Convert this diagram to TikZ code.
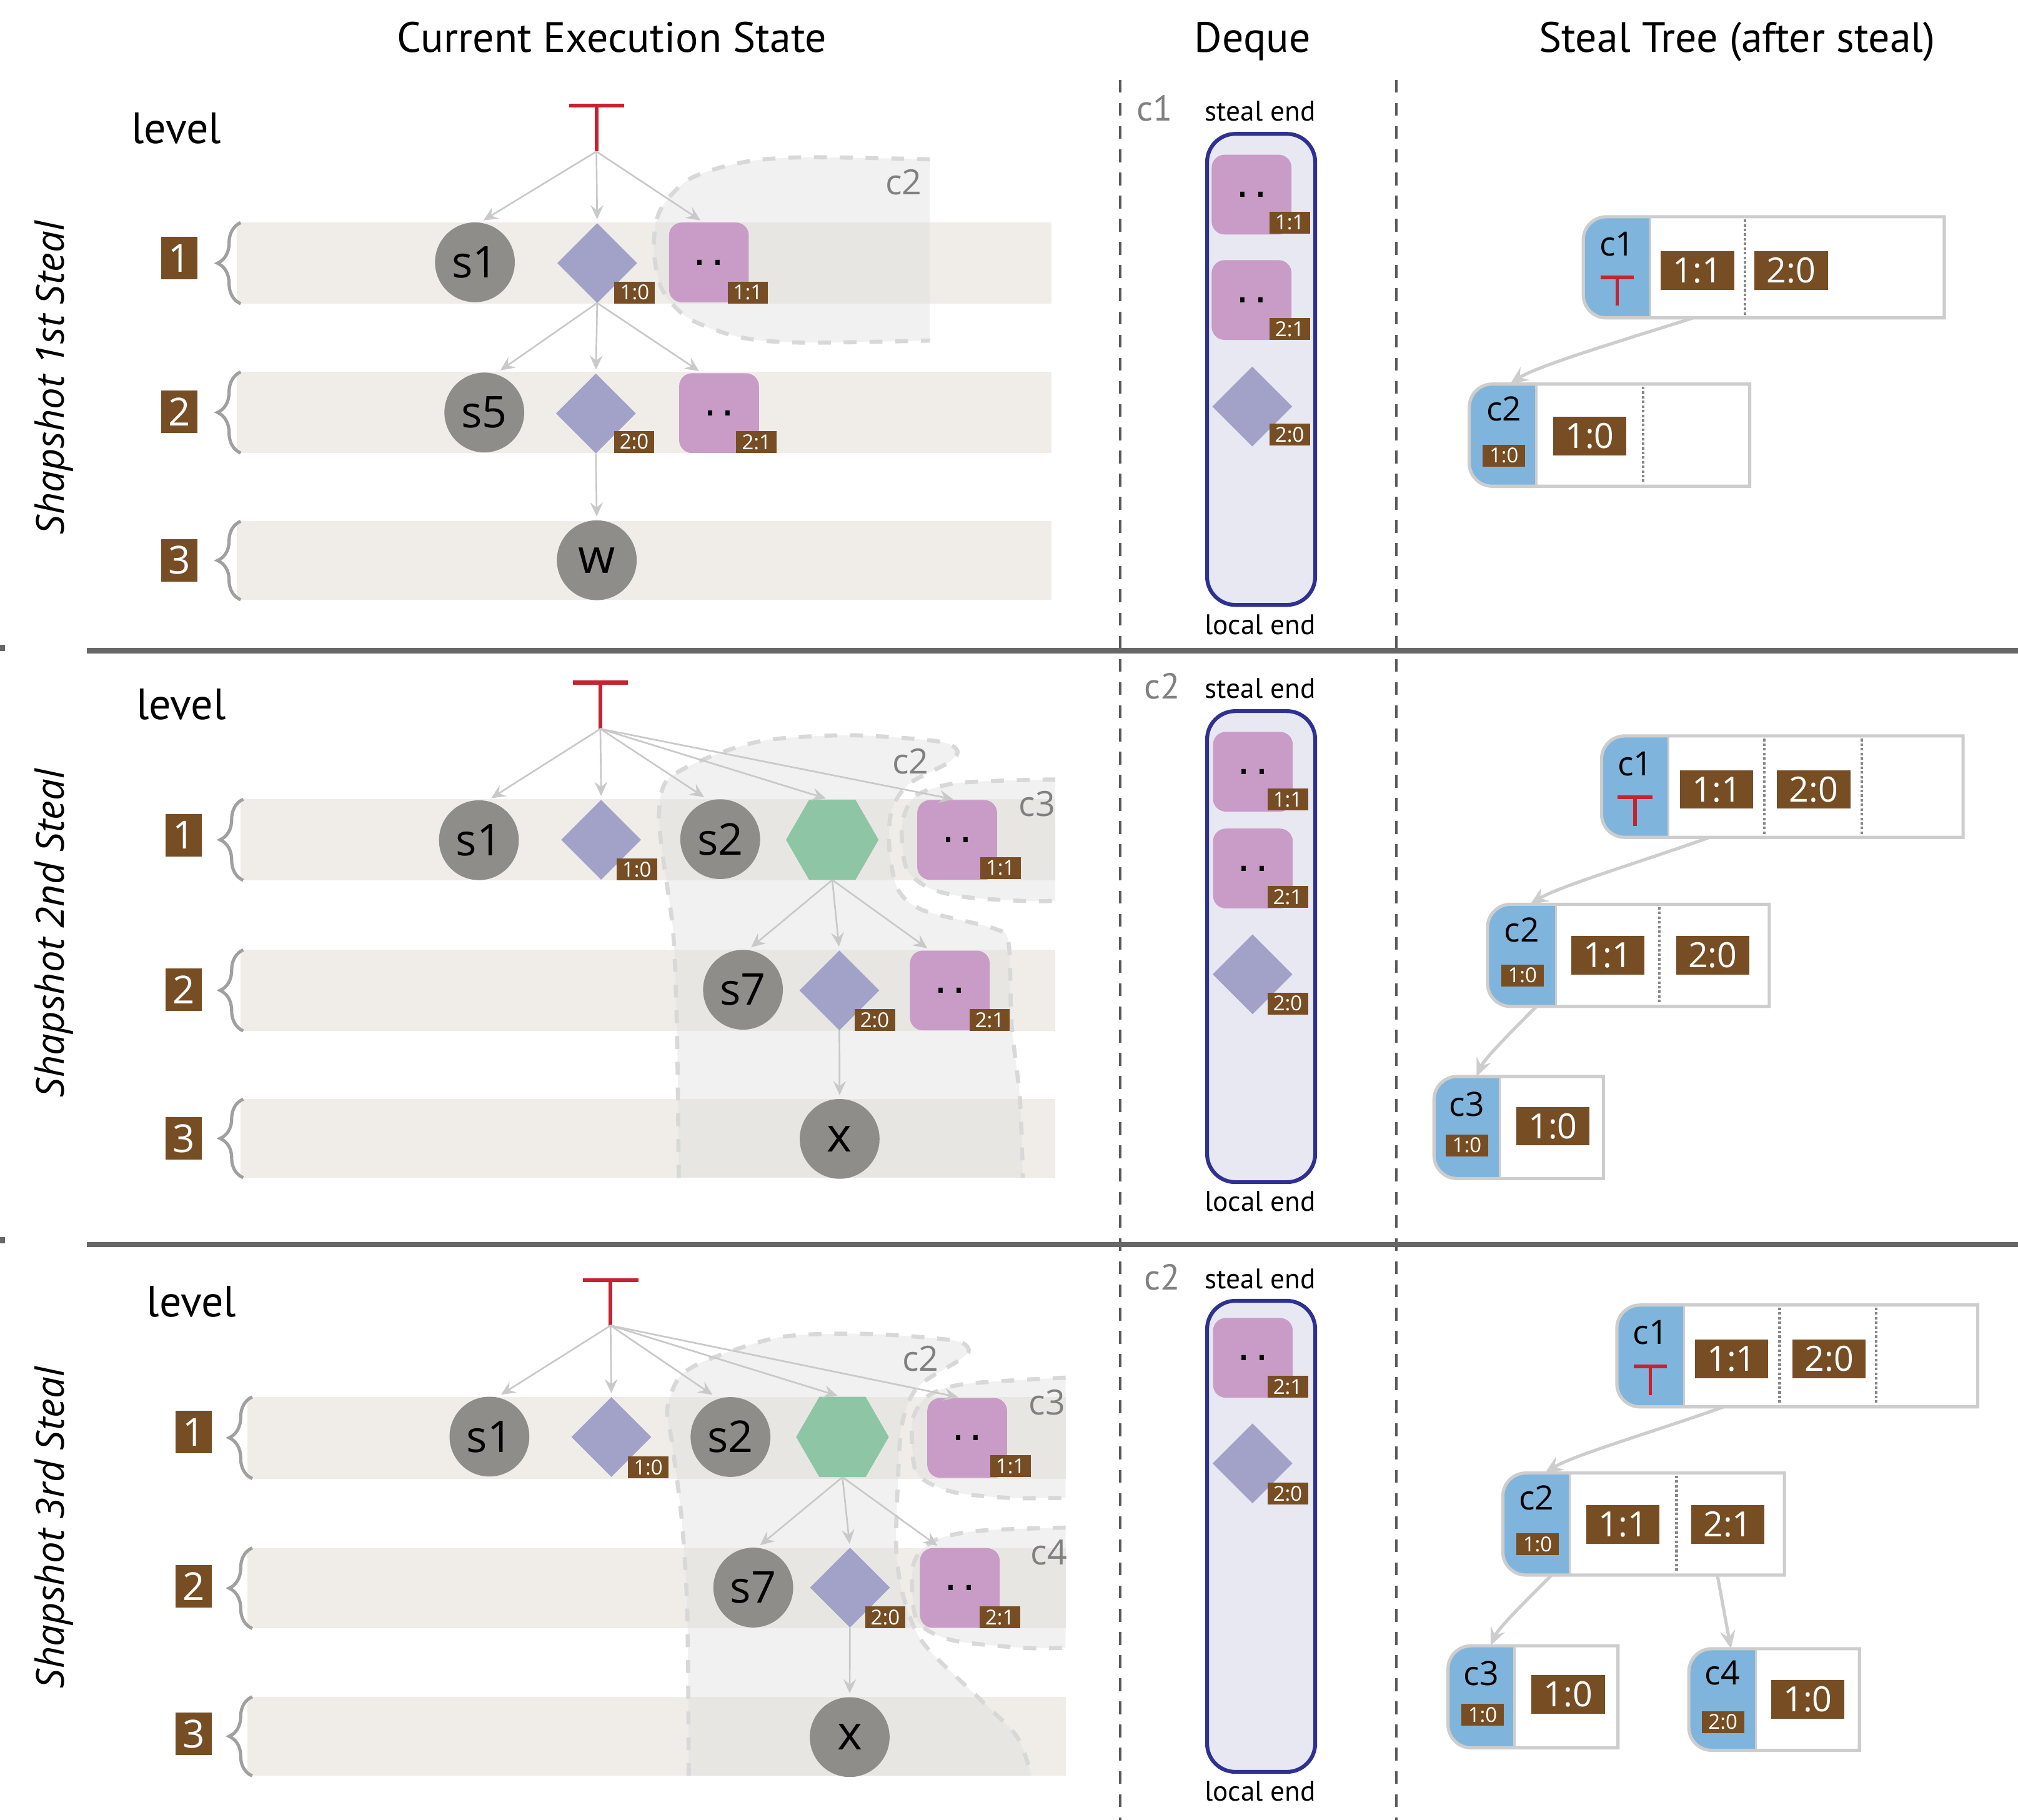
\documentclass[tikz,border=0pt]{standalone}
\usepackage{fontspec}
\setmainfont{PT Sans}
\newfontfamily\osans{Open Sans}
\newfontfamily\dvsans{DejaVu Sans}
\usetikzlibrary{shapes.geometric,arrows.meta,decorations.pathreplacing,fit,calc}

\definecolor{bandc}{HTML}{F0EDE9}
\definecolor{circc}{HTML}{8F8D8A}
\definecolor{diac}{HTML}{A2A1C8}
\definecolor{pinkc}{HTML}{C99BC7}
\definecolor{hexc}{HTML}{8EC6A5}
\definecolor{brownc}{HTML}{774D23}
\definecolor{stbluec}{HTML}{7FB5DC}
\definecolor{stlinec}{HTML}{CDCDCD}
\definecolor{dqfillc}{HTML}{E8E8F3}
\definecolor{dqlinec}{HTML}{2E3192}
\definecolor{redc}{HTML}{C6222F}
\definecolor{arrc}{HTML}{C9C9C9}
\definecolor{regc}{HTML}{DCDCDC}
\definecolor{reglinec}{HTML}{D8D8D8}
\definecolor{labgray}{HTML}{808080}
\definecolor{sepc}{HTML}{676767}
\definecolor{vsepc}{HTML}{5A5A5A}
\definecolor{bracec}{HTML}{A0A0A0}
\definecolor{dotsepc}{HTML}{888888}

\newcommand\fs[1]{\fontsize{#1}{#1}\selectfont}
\newcommand\twodots{{\dvsans\fs{32}.\kern3.8pt.}}

% steal tree node: name, x0, y0, x1, y1, bx
\newcommand\stnode[6]{%
  \fill[stbluec] (#6,#3) -- ({#2+18},#3) .. controls ({#2+8},#3) and (#2,{#3+8}) .. (#2,{#3+18}) -- (#2,{#5-18}) .. controls (#2,{#5-8}) and ({#2+8},#5) .. ({#2+18},#5) -- (#6,#5) -- cycle;
  \draw[stlinec, line width=2.5pt] (#4,#3) -- ({#2+18},#3) .. controls ({#2+8},#3) and (#2,{#3+8}) .. (#2,{#3+18}) -- (#2,{#5-18}) .. controls (#2,{#5-8}) and ({#2+8},#5) .. ({#2+18},#5) -- (#4,#5) -- cycle;
  \draw[stlinec, line width=1.5pt] (#6,#3) -- (#6,#5);
  \node[fit={(#2,#3) (#4,#5)}] (#1) {};
}

\begin{document}
\begin{tikzpicture}[x=1pt,y=-1pt,
  every node/.style={inner sep=0pt, outer sep=0pt},
  bandbox/.style={fill=bandc},
  lvlbox/.style={fill=brownc, text=white, minimum width=28pt, minimum height=33pt, font=\osans\fs{30}},
  bracest/.style={decorate, decoration={brace, amplitude=18pt}, draw=bracec, line width=2.5pt},
  gcirc/.style={circle, fill=circc, minimum size=62pt, font=\osans\fs{34}},
  bigl/.style={font=\osans\fs{37}},
  dmd/.style={diamond, fill=diac, minimum width=62pt, minimum height=62pt, aspect=1},
  hexa/.style={regular polygon, regular polygon sides=6, fill=hexc, minimum size=72pt},
  pinkbox/.style={rectangle, rounded corners=10pt, fill=pinkc, minimum width=62pt, minimum height=62pt},
  smalltag/.style={fill=brownc, text=white, font=\osans\fs{16}, minimum width=31.5pt, minimum height=17pt, anchor=south west},
  sttag/.style={fill=brownc, text=white, font=\osans\fs{16}, minimum width=33pt, minimum height=17pt},
  entrybox/.style={fill=brownc, text=white, font=\osans\fs{27}, minimum width=57pt, minimum height=30pt},
  stname/.style={font=\osans\fs{26}},
  garrow/.style={draw=arrc, line width=1.3pt, shorten >=3pt, -{Stealth[length=11pt,width=10pt,inset=4pt]}},
  starrow/.style={draw=stlinec, line width=2.5pt, -{Stealth[length=14pt,width=12pt,inset=5pt]}},
  regfill/.style={fill=regc, fill opacity=0.4},
  regdash/.style={draw=reglinec, line width=3.2pt, dash pattern=on 10pt off 10pt},
  reglabel/.style={text=labgray, font=\osans\fs{27}},
  redt/.style={draw=redc, line width=3pt},
  dqbox/.style={draw=dqlinec, line width=3pt, fill=dqfillc, rounded corners=22pt, minimum width=84pt, minimum height=366pt},
  dqlabel/.style={text=labgray, font=\fs{28}},
  endlabel/.style={font=\fs{22}},
  ttl/.style={font=\fs{33}, anchor=base},
  lvltext/.style={font=\fs{34}},
  rot/.style={rotate=90, font=\osans\itshape\fs{30}},
  dotsep/.style={draw=dotsepc, line width=2pt, dash pattern=on 2pt off 1.6pt}
]
\path[use as bounding box] (0,0) rectangle (1568,1414);

% ---------------- titles ----------------
\node[ttl] (title1) at (475.5,40.6) {Current Execution State};
\node[ttl] (title2) at (973.2,40.6) {Deque};
\node[ttl] (title3) at (1349.8,40.6) {Steal Tree (after steal)};

% ---------------- separators ----------------
\draw[vsepc, line width=2pt, dash pattern=on 10pt off 8pt] (870.2,62) -- (870.2,1414);
\draw[vsepc, line width=2pt, dash pattern=on 10pt off 8pt] (1084.8,62) -- (1084.8,1414);
\draw[sepc, line width=4.3pt] (67.5,505.6) -- (1568,505.6);
\draw[sepc, line width=4.3pt] (67.5,967) -- (1568,967);
\fill[sepc] (0,501) rectangle (4,506);
\fill[sepc] (0,961) rectangle (4,966);

% ================= PANEL 1 =================
\fill[bandbox] (184,173) rectangle (817,236);
\fill[bandbox] (184,289) rectangle (817,352);
\fill[bandbox] (184,405) rectangle (817,466);
\draw[bracest] (187,236) -- (187,173);
\draw[bracest] (187,352) -- (187,289);
\draw[bracest] (187,466) -- (187,405);
\node[lvlbox] (A1) at (139.2,200.6) {1};
\node[lvlbox] (A2) at (139.2,320) {2};
\node[lvlbox] (A3) at (139.2,435.3) {3};
\node[lvltext] (Alevel) at (137,99.7) {level};
\node[rot] (Arot) at (42,293.5) {Shapshot 1st Steal};

\fill[regfill] plot[smooth] coordinates {(722.5,123.8) (624.5,122.2) (576,126.3) (535.6,139.2) (512.9,163.5) (508,192.6) (514.5,225) (535.6,247.6) (576,262.2) (624.5,266.2) (722.5,264.6)} -- cycle;
\draw[regdash] plot[smooth] coordinates {(722.5,123.8) (624.5,122.2) (576,126.3) (535.6,139.2) (512.9,163.5) (508,192.6) (514.5,225) (535.6,247.6) (576,262.2) (624.5,266.2) (722.5,264.6)};
\node[reglabel] (Arc2) at (702.2,141.6) {c2};

\node[minimum width=42.7pt, minimum height=35.5pt, anchor=north] (Aroot) at (463.4,82.2) {};
\draw[redt] (Aroot.north west) -- (Aroot.north east) (Aroot.north) -- (Aroot.south);

\node[gcirc] (As1) at (369,203.8) {s1};
\node[dmd] (Ad1) at (464,204.4) {};
\node[pinkbox] (Ap1) at (550.8,203.9) {\twodots};
\node[gcirc] (As5) at (376.3,320.5) {s5};
\node[dmd] (Ad2) at (463,321.2) {};
\node[pinkbox] (Ap2) at (558.7,321) {\twodots};
\node[gcirc, bigl] (Aw) at (463.7,435.3) {w};
\node[smalltag] (Ad1t) at (477.4,235.7) {1:0};
\node[smalltag] (Ap1t) at (565.3,235.7) {1:1};
\node[smalltag] (Ad2t) at (477,351.8) {2:0};
\node[smalltag] (Ap2t) at (572,352) {2:1};

\draw[garrow] (Aroot.south) -- ([xshift=4pt]As1.north);
\draw[garrow] (Aroot.south) -- (Ad1.north);
\draw[garrow] (Aroot.south) -- ([xshift=-4pt]Ap1.north);
\draw[garrow] (Ad1.south) -- ([xshift=10pt]As5.north);
\draw[garrow] (Ad1.south) -- (Ad2.north);
\draw[garrow] (Ad1.south) -- ([xshift=-13pt]Ap2.north);
\draw[garrow] (Ad2.south) -- (Aw.north);

% deque 1
\node[dqbox] (AQ) at (979.9,287) {};
\node[dqlabel] (AQc) at (897,84.2) {c1};
\node[endlabel] (AQs) at (979.2,86.5) {steal end};
\node[endlabel] (AQl) at (979.2,485.2) {local end};
\node[pinkbox] (AQp1) at (972.5,151.2) {\twodots};
\node[pinkbox] (AQp2) at (972.5,233.1) {\twodots};
\node[dmd] (AQd) at (973,315.8) {};
\node[smalltag] (AQp1t) at (986.3,181.4) {1:1};
\node[smalltag] (AQp2t) at (986.3,264) {2:1};
\node[smalltag] (AQdt) at (986.3,346.2) {2:0};

% steal tree 1
\stnode{ATc1}{1230.2}{168.4}{1510.7}{247}{1282.3}
\node[stname] (ATc1n) at (1256.5,189.7) {c1};
\node[minimum width=26pt, minimum height=22pt, anchor=north] (ATc1r) at (1256.5,215.5) {};
\draw[redt, line width=2.7pt] (ATc1r.north west) -- (ATc1r.north east) (ATc1r.north) -- (ATc1r.south);
\node[entrybox] (ATc1e1) at (1319,210) {1:1};
\node[entrybox] (ATc1e2) at (1391.8,210) {2:0};
\draw[dotsep] (1355.8,170.5) -- (1355.8,245);
\stnode{ATc2}{1141.6}{298.4}{1359.5}{377.8}{1193.7}
\node[stname] (ATc2n) at (1168.6,317.7) {c2};
\node[sttag] (ATc2t) at (1168.6,353.9) {1:0};
\node[entrybox] (ATc2e1) at (1235.2,338.8) {1:0};
\draw[dotsep] (1276.6,300.5) -- (1276.6,376);
\draw[starrow] ([xshift=85.3pt]ATc1.south west) .. controls +(-50,16) and +(20,-14) .. ([xshift=31.8pt]ATc2.north west);

% ================= PANEL 2 =================
\fill[bandbox] (187,621) rectangle (820,684);
\fill[bandbox] (187,738) rectangle (820,801);
\fill[bandbox] (187,854) rectangle (820,915);
\draw[bracest] (189,684) -- (189,621);
\draw[bracest] (189,801) -- (189,738);
\draw[bracest] (189,915) -- (189,854);
\node[lvlbox] (B1) at (142.6,649) {1};
\node[lvlbox] (B2) at (142.6,769) {2};
\node[lvlbox] (B3) at (142.6,884.6) {3};
\node[lvltext] (Blevel) at (140.8,547.5) {level};
\node[rot] (Brot) at (42,725) {Shapshot 2nd Steal};

\fill[regfill] plot[smooth] coordinates {(527.4,915) (526,800) (523,724) (515,665) (512,632) (518.5,606) (551.7,588) (596,575) (662,571.3) (728.4,576) (743.9,583.5) (736,593) (706.3,609.1) (693,629) (690.9,657.6) (697.5,690.7) (717.4,707.3) (772.6,721.5) (783.7,733) (785.9,794.8) (792.5,853.9) (794.7,915)} -- cycle;
\draw[regdash] plot[smooth] coordinates {(527.4,915) (526,800) (523,724) (515,665) (512,632) (518.5,606) (551.7,588) (596,575) (662,571.3) (728.4,576) (743.9,583.5) (736,593) (706.3,609.1) (693,629) (690.9,657.6) (697.5,690.7) (717.4,707.3) (772.6,721.5) (783.7,733) (785.9,794.8) (792.5,853.9) (794.7,915)};
\fill[regfill] plot[smooth] coordinates {(820,605.6) (780,606.5) (739.5,609) (712,618) (702,635) (700.8,653) (705,676) (722,690) (750,697) (795,700) (820,700)} -- cycle;
\draw[regdash] plot[smooth] coordinates {(820,605.6) (780,606.5) (739.5,609) (712,618) (702,635) (700.8,653) (705,676) (722,690) (750,697) (795,700) (820,700)};
\node[reglabel] (Brc2) at (707.5,591.5) {c2};
\node[reglabel] (Brc3) at (805.8,624.7) {c3};

\node[minimum width=43pt, minimum height=36pt, anchor=north] (Broot) at (466.5,530.3) {};
\draw[redt] (Broot.north west) -- (Broot.north east) (Broot.north) -- (Broot.south);

\node[gcirc] (Bs1) at (372.1,652.8) {s1};
\node[dmd] (Bd1) at (467.1,652.5) {};
\node[gcirc] (Bs2) at (559.6,652) {s2};
\node[hexa] (Bhx) at (646.7,652.5) {};
\node[pinkbox] (Bp1) at (743.7,652.6) {\twodots};
\node[gcirc] (Bs7) at (577.3,769) {s7};
\node[dmd] (Bd2) at (652.2,769.5) {};
\node[pinkbox] (Bp2) at (738,769.6) {\twodots};
\node[gcirc, bigl] (Bx) at (652.4,884.9) {x};
\node[smalltag] (Bd1t) at (479,684.1) {1:0};
\node[smalltag] (Bp1t) at (761.6,683) {1:1};
\node[smalltag] (Bd2t) at (663.9,801) {2:0};
\node[smalltag] (Bp2t) at (753.2,801) {2:1};

\draw[garrow] (Broot.south) -- ([xshift=7pt]Bs1.north);
\draw[garrow] (Broot.south) -- (Bd1.north);
\draw[garrow] (Broot.south) -- ([xshift=-10pt]Bs2.north);
\draw[garrow] (Broot.south) -- ([xshift=-2pt]Bhx.north);
\draw[garrow] (Broot.south) -- (Bp1.north);
\draw[garrow] (Bhx.south) -- ([xshift=4pt]Bs7.north);
\draw[garrow] (Bhx.south) -- (Bd2.north);
\draw[garrow] (Bhx.south) -- ([xshift=-15pt]Bp2.north);
\draw[garrow] (Bd2.south) -- (Bx.north);

% deque 2
\node[dqbox] (BQ) at (979.9,735.5) {};
\node[dqlabel] (BQc) at (903,533) {c2};
\node[endlabel] (BQs) at (979.2,535.1) {steal end};
\node[endlabel] (BQl) at (979.2,933.3) {local end};
\node[pinkbox] (BQp1) at (973.5,599.6) {\twodots};
\node[pinkbox] (BQp2) at (973.5,674.8) {\twodots};
\node[dmd] (BQd) at (973.2,757) {};
\node[smalltag] (BQp1t) at (984.8,629.8) {1:1};
\node[smalltag] (BQp2t) at (984.8,705.5) {2:1};
\node[smalltag] (BQdt) at (984.8,788.2) {2:0};

% steal tree 2
\stnode{BTc1}{1244.4}{571.8}{1525.3}{650.6}{1296.5}
\node[stname] (BTc1n) at (1270.5,593.4) {c1};
\node[minimum width=27pt, minimum height=22.3pt, anchor=north] (BTc1r) at (1270.5,619.3) {};
\draw[redt, line width=2.7pt] (BTc1r.north west) -- (BTc1r.north east) (BTc1r.north) -- (BTc1r.south);
\node[entrybox] (BTc1e1) at (1333.8,613.4) {1:1};
\node[entrybox] (BTc1e2) at (1409.3,613.4) {2:0};
\draw[dotsep] (1370.9,574) -- (1370.9,648.5);
\draw[dotsep] (1446.7,574) -- (1446.7,648.5);
\stnode{BTc2}{1155.8}{702.6}{1374.7}{782}{1208.9}
\node[stname] (BTc2n) at (1182.4,722.7) {c2};
\node[sttag] (BTc2t) at (1182.9,757.9) {1:0};
\node[entrybox] (BTc2e1) at (1249.2,742.2) {1:1};
\node[entrybox] (BTc2e2) at (1330.7,742.2) {2:0};
\draw[dotsep] (1289.4,704.8) -- (1289.4,780);
\stnode{BTc3}{1114.2}{836.4}{1245.9}{915.7}{1165.3}
\node[stname] (BTc3n) at (1139.8,858) {c3};
\node[sttag] (BTc3t) at (1139.8,889.9) {1:0};
\node[entrybox] (BTc3e1) at (1206.6,875) {1:0};
\draw[starrow] ([xshift=83.9pt]BTc1.south west) .. controls +(-50,18) and +(22,-14) .. ([xshift=33.2pt]BTc2.north west);
\draw[starrow] ([xshift=38pt]BTc2.south west) .. controls +(-14,14) and +(6,-14) .. ([xshift=33.1pt]BTc3.north west);

% ================= PANEL 3 =================
\fill[bandbox] (192,1085.4) rectangle (828,1148.8);
\fill[bandbox] (192,1202.7) rectangle (828,1265.3);
\fill[bandbox] (192,1318.4) rectangle (828,1379.8);
\draw[bracest] (196,1148.8) -- (196,1085.4);
\draw[bracest] (196,1265.3) -- (196,1202.7);
\draw[bracest] (196,1379.8) -- (196,1318.4);
\node[lvlbox] (C1) at (150.5,1112.8) {1};
\node[lvlbox] (C2) at (150.5,1232.6) {2};
\node[lvlbox] (C3) at (150.5,1347.2) {3};
\node[lvltext] (Clevel) at (148.7,1011.2) {level};
\node[rot] (Crot) at (42,1187) {Shapshot 3rd Steal};

\fill[regfill] plot[smooth] coordinates {(535.1,1379.8) (534,1252.4) (529.6,1179.6) (522,1120) (518.5,1094.7) (528,1070) (551.7,1055.8) (606.9,1038.8) (673.2,1036.4) (739.5,1041.3) (752.7,1048.5) (745,1057) (713,1077.7) (700.8,1106.8) (697.5,1155.3) (696.4,1203.9) (701.9,1240.3) (717.4,1276.7) (761.6,1320.4) (790.3,1349.5) (801.4,1379.8)} -- cycle;
\draw[regdash] plot[smooth] coordinates {(535.1,1379.8) (534,1252.4) (529.6,1179.6) (522,1120) (518.5,1094.7) (528,1070) (551.7,1055.8) (606.9,1038.8) (673.2,1036.4) (739.5,1041.3) (752.7,1048.5) (745,1057) (713,1077.7) (700.8,1106.8) (697.5,1155.3) (696.4,1203.9) (701.9,1240.3) (717.4,1276.7) (761.6,1320.4) (790.3,1349.5) (801.4,1379.8)};
\fill[regfill] plot[smooth] coordinates {(828,1070.4) (750.5,1075.2) (722,1084) (710,1100) (708.6,1118.9) (713,1145.6) (739.5,1159) (783.7,1163.8) (828,1163.8)} -- cycle;
\draw[regdash] plot[smooth] coordinates {(828,1070.4) (750.5,1075.2) (722,1084) (710,1100) (708.6,1118.9) (713,1145.6) (739.5,1159) (783.7,1163.8) (828,1163.8)};
\fill[regfill] plot[smooth] coordinates {(828,1186.9) (761.6,1189.3) (728,1196) (712,1210) (708.6,1228.1) (713,1259.7) (739.5,1274.3) (794.7,1280.3) (828,1280.3)} -- cycle;
\draw[regdash] plot[smooth] coordinates {(828,1186.9) (761.6,1189.3) (728,1196) (712,1210) (708.6,1228.1) (713,1259.7) (739.5,1274.3) (794.7,1280.3) (828,1280.3)};
\node[reglabel] (Crc2) at (715.2,1055.8) {c2};
\node[reglabel] (Crc3) at (813.5,1089.7) {c3};
\node[reglabel] (Crc4) at (815,1206.3) {c4};

\node[minimum width=43pt, minimum height=35.2pt, anchor=north] (Croot) at (474.4,994.7) {};
\draw[redt] (Croot.north west) -- (Croot.north east) (Croot.north) -- (Croot.south);

\node[gcirc] (Cs1) at (380.3,1116.2) {s1};
\node[dmd] (Cd1) at (475,1116.5) {};
\node[gcirc] (Cs2) at (567.6,1116.5) {s2};
\node[hexa] (Chx) at (654.6,1116.5) {};
\node[pinkbox] (Cp1) at (751.5,1117.2) {\twodots};
\node[gcirc] (Cs7) at (585.3,1233.5) {s7};
\node[dmd] (Cd2) at (660.4,1233.5) {};
\node[pinkbox] (Cp2) at (745.8,1233.8) {\twodots};
\node[gcirc, bigl] (Cx) at (660.2,1349.7) {x};
\node[smalltag] (Cd1t) at (487.9,1148.5) {1:0};
\node[smalltag] (Cp1t) at (769.3,1147.6) {1:1};
\node[smalltag] (Cd2t) at (672.1,1265.3) {2:0};
\node[smalltag] (Cp2t) at (761.1,1265) {2:1};

\draw[garrow] (Croot.south) -- ([xshift=6.5pt]Cs1.north);
\draw[garrow] (Croot.south) -- (Cd1.north);
\draw[garrow] (Croot.south) -- ([xshift=-11.5pt]Cs2.north);
\draw[garrow] (Croot.south) -- ([xshift=-1pt]Chx.north);
\draw[garrow] (Croot.south) -- ([xshift=-4pt]Cp1.north);
\draw[garrow] (Chx.south) -- ([xshift=3pt]Cs7.north);
\draw[garrow] (Chx.south) -- (Cd2.north);
\draw[garrow] (Chx.south) -- ([xshift=-15pt]Cp2.north);
\draw[garrow] (Cd2.south) -- (Cx.north);

% deque 3
\node[dqbox] (CQ) at (979.9,1193.7) {};
\node[dqlabel] (CQc) at (903,992.2) {c2};
\node[endlabel] (CQs) at (979.2,993.6) {steal end};
\node[endlabel] (CQl) at (979.2,1391.7) {local end};
\node[pinkbox] (CQp1) at (973.5,1055) {\twodots};
\node[dmd] (CQd) at (973.2,1137) {};
\node[smalltag] (CQp1t) at (984.8,1085.9) {2:1};
\node[smalltag] (CQdt) at (984.8,1169) {2:0};

% steal tree 3
\stnode{CTc1}{1256.3}{1014}{1536.7}{1093.1}{1308.4}
\node[stname] (CTc1n) at (1282.4,1035.5) {c1};
\node[minimum width=26pt, minimum height=22.3pt, anchor=north] (CTc1r) at (1282.4,1061.6) {};
\draw[redt, line width=2.7pt] (CTc1r.north west) -- (CTc1r.north east) (CTc1r.north) -- (CTc1r.south);
\node[entrybox] (CTc1e1) at (1345.4,1055.9) {1:1};
\node[entrybox] (CTc1e2) at (1421.2,1055.9) {2:0};
\draw[dotsep] (1382.8,1016) -- (1382.8,1091);
\draw[dotsep] (1457.6,1016) -- (1457.6,1091);
\stnode{CTc2}{1167.7}{1144.5}{1386.5}{1223.8}{1219.8}
\node[stname] (CTc2n) at (1193.8,1164) {c2};
\node[sttag] (CTc2t) at (1194.7,1199.7) {1:0};
\node[entrybox] (CTc2e1) at (1261,1184.5) {1:1};
\node[entrybox] (CTc2e2) at (1342.5,1184.5) {2:1};
\draw[dotsep] (1302.7,1146.5) -- (1302.7,1222);
\stnode{CTc3}{1125.1}{1278.7}{1257.2}{1358}{1176.7}
\node[stname] (CTc3n) at (1151,1300.3) {c3};
\node[sttag] (CTc3t) at (1152,1332.4) {1:0};
\node[entrybox] (CTc3e1) at (1218.4,1316.4) {1:0};
\stnode{CTc4}{1312.2}{1281}{1444.8}{1360}{1364.3}
\node[stname] (CTc4n) at (1338.3,1300) {c4};
\node[sttag] (CTc4t) at (1338.7,1337.9) {2:0};
\node[entrybox] (CTc4e1) at (1404.6,1320.5) {1:0};
\draw[starrow] ([xshift=82.9pt]CTc1.south west) .. controls +(-50,18) and +(22,-14) .. ([xshift=32.7pt]CTc2.north west);
\draw[starrow] ([xshift=37.9pt]CTc2.south west) .. controls +(-14,14) and +(6,-14) .. ([xshift=33.1pt]CTc3.north west);
\draw[starrow] ([xshift=166.7pt]CTc2.south west) -- ([xshift=32.7pt]CTc4.north west);

\end{tikzpicture}
\end{document}
